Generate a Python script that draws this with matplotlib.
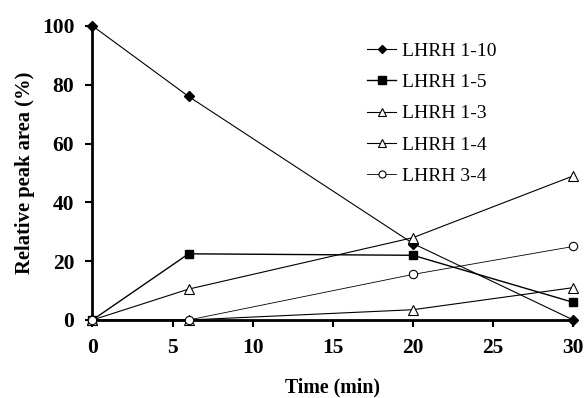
import matplotlib
matplotlib.use('Agg')
import matplotlib.pyplot as plt

# time points (min)
time = [0, 6, 20, 30]

# relative peak areas (%)
lhrh_1_10 = [100, 76, 26, 0]
lhrh_1_5 = [0, 22.5, 22, 6]
lhrh_1_3 = [0, 10.5, 28, 49]
lhrh_1_4 = [0, 0, 3.5, 11]
lhrh_3_4 = [0, 0, 15.5, 25]

x_ticks = [0, 5, 10, 15, 20, 25, 30]
y_ticks = [0, 20, 40, 60, 80, 100]

serif = ['Liberation Serif', 'DejaVu Serif']

fig = plt.figure(figsize=(5.85, 3.98), dpi=100)
ax = fig.add_axes([0.158, 0.196, 0.822, 0.739])

ax.plot(time, lhrh_1_10, color='black', lw=0.8, marker='D', ms=5,
        mfc='black', mec='black', label='LHRH 1-10', clip_on=False, zorder=5)
ax.plot(time, lhrh_1_5, color='black', lw=1.0, marker='s', ms=6,
        mfc='black', mec='black', label='LHRH 1-5', clip_on=False, zorder=5)
ax.plot(time, lhrh_1_3, color='black', lw=0.8, marker='^', ms=7,
        mfc='white', mec='black', mew=0.8, label='LHRH 1-3', clip_on=False, zorder=5)
ax.plot(time, lhrh_1_4, color='black', lw=0.8, marker='^', ms=7,
        mfc='white', mec='black', mew=0.8, label='LHRH 1-4', clip_on=False, zorder=5)
ax.plot(time, lhrh_3_4, color='black', lw=0.6, marker='o', ms=6,
        mfc='white', mec='black', mew=0.8, label='LHRH 3-4', clip_on=False, zorder=5)

ax.set_xlim(0, 30)
ax.set_ylim(0, 100)
ax.set_xticks(x_ticks)
ax.set_yticks(y_ticks)

for s in ['top', 'right']:
    ax.spines[s].set_visible(False)
for s in ['left', 'bottom']:
    ax.spines[s].set_linewidth(2.0)

ax.tick_params(axis='both', direction='out', length=5, width=1.5, pad=8)
for lab in ax.get_xticklabels() + ax.get_yticklabels():
    lab.set_family(serif)
    lab.set_fontweight('bold')
    lab.set_fontsize(15.5)

ax.set_xlabel('Time (min)', family=serif, fontweight='bold', fontsize=14.3, labelpad=14)
ax.set_ylabel('Relative peak area (%)', family=serif, fontweight='bold', fontsize=14.9, labelpad=5)

leg = ax.legend(loc='upper left', bbox_to_anchor=(0.535, 1.005), frameon=False,
                prop={'family': serif, 'size': 14}, handlelength=1.5,
                handletextpad=0.3, labelspacing=0.71, markerscale=0.85)

fig.savefig('out.png', dpi=100)
